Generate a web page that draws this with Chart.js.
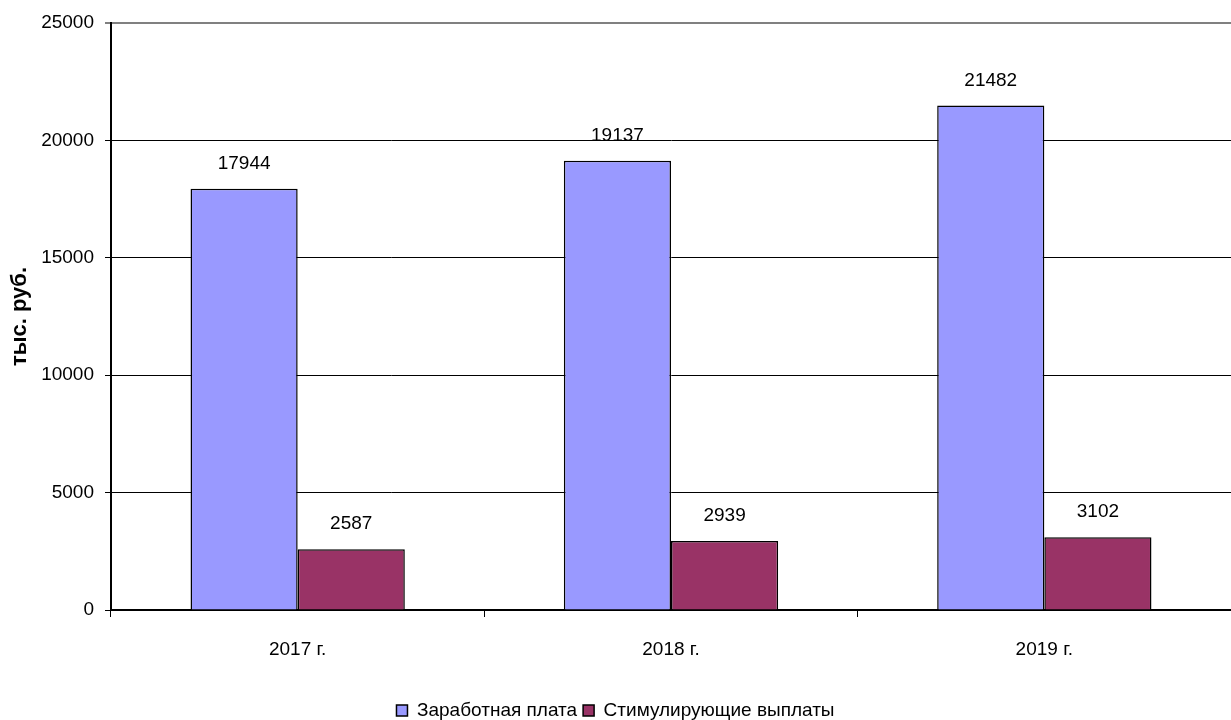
<!DOCTYPE html>
<html>
<head>
<meta charset="utf-8">
<script src="https://cdn.jsdelivr.net/npm/chart.js@4/dist/chart.umd.min.js"></script>
<style>
  html, body { margin: 0; padding: 0; background: #fff; }
  #wrap { width: 1231px; height: 720px; position: relative; }
</style>
</head>
<body>
<div id="wrap"><canvas id="c" width="1231" height="720"></canvas></div>
<script>
const categories = ['2017 г.', '2018 г.', '2019 г.'];
const seriesNames = ['Заработная плата', 'Стимулирующие выплаты'];
const salary = [17944, 19137, 21482];
const bonus = [2587, 2939, 3102];
const yTicks = [0, 5000, 10000, 15000, 20000, 25000];
const yTitle = 'тыс. руб.';

const FONT = "'Liberation Sans', Arial, sans-serif";

const valueLabels = {
  id: 'valueLabels',
  afterDatasetsDraw(chart) {
    const ctx = chart.ctx;
    ctx.save();
    ctx.font = '19px ' + FONT;
    ctx.fillStyle = '#000';
    ctx.textAlign = 'center';
    ctx.textBaseline = 'middle';
    chart.data.datasets.forEach((ds, i) => {
      chart.getDatasetMeta(i).data.forEach((bar, j) => {
        ctx.fillText(String(ds.data[j]), bar.x, bar.y - 25);
      });
    });
    ctx.restore();
  }
};

new Chart(document.getElementById('c'), {
  type: 'bar',
  data: {
    labels: categories,
    datasets: [
      { label: seriesNames[0], data: salary, backgroundColor: '#9999FF', borderColor: '#000', borderWidth: 1.5 },
      { label: seriesNames[1], data: bonus, backgroundColor: '#993366', borderColor: '#000', borderWidth: 1.5 }
    ]
  },
  options: {
    responsive: false,
    animation: false,
    devicePixelRatio: 1,
    layout: { padding: { top: 23, right: 0, bottom: -10, left: 0 } },
    datasets: { bar: { categoryPercentage: 0.574, barPercentage: 1 } },
    plugins: {
      legend: {
        position: 'bottom',
        labels: {
          font: { family: FONT, size: 19, lineHeight: 1 },
          color: '#000',
          boxWidth: 11,
          boxHeight: 11,
          padding: 6
        }
      },
      tooltip: { enabled: false }
    },
    scales: {
      x: {
        afterFit(s) { s.height = 85; },
        grid: { offset: true, drawOnChartArea: false, color: '#000', tickLength: 7, lineWidth: 1 },
        border: { color: '#000', width: 2 },
        ticks: { font: { family: FONT, size: 19 }, color: '#000', padding: 21 }
      },
      y: {
        min: 0, max: 25000,
        afterFit(s) { s.width = 111; },
        afterBuildTicks(s) { s.ticks = yTicks.map(v => ({ value: v })); },
        grid: {
          color: (c) => (c.tick && c.tick.value === 25000) ? '#808080' : '#000',
          lineWidth: (c) => (c.tick && c.tick.value === 25000) ? 2 : 1,
          tickLength: 6
        },
        border: { color: '#000', width: 2 },
        ticks: { font: { family: FONT, size: 19 }, color: '#000', padding: 11, callback: (v) => String(v) },
        title: { display: true, text: yTitle, font: { family: FONT, size: 22, weight: 'bold' }, color: '#000', padding: { top: 7, bottom: 0 } }
      }
    }
  },
  plugins: [valueLabels]
});
</script>
</body>
</html>
